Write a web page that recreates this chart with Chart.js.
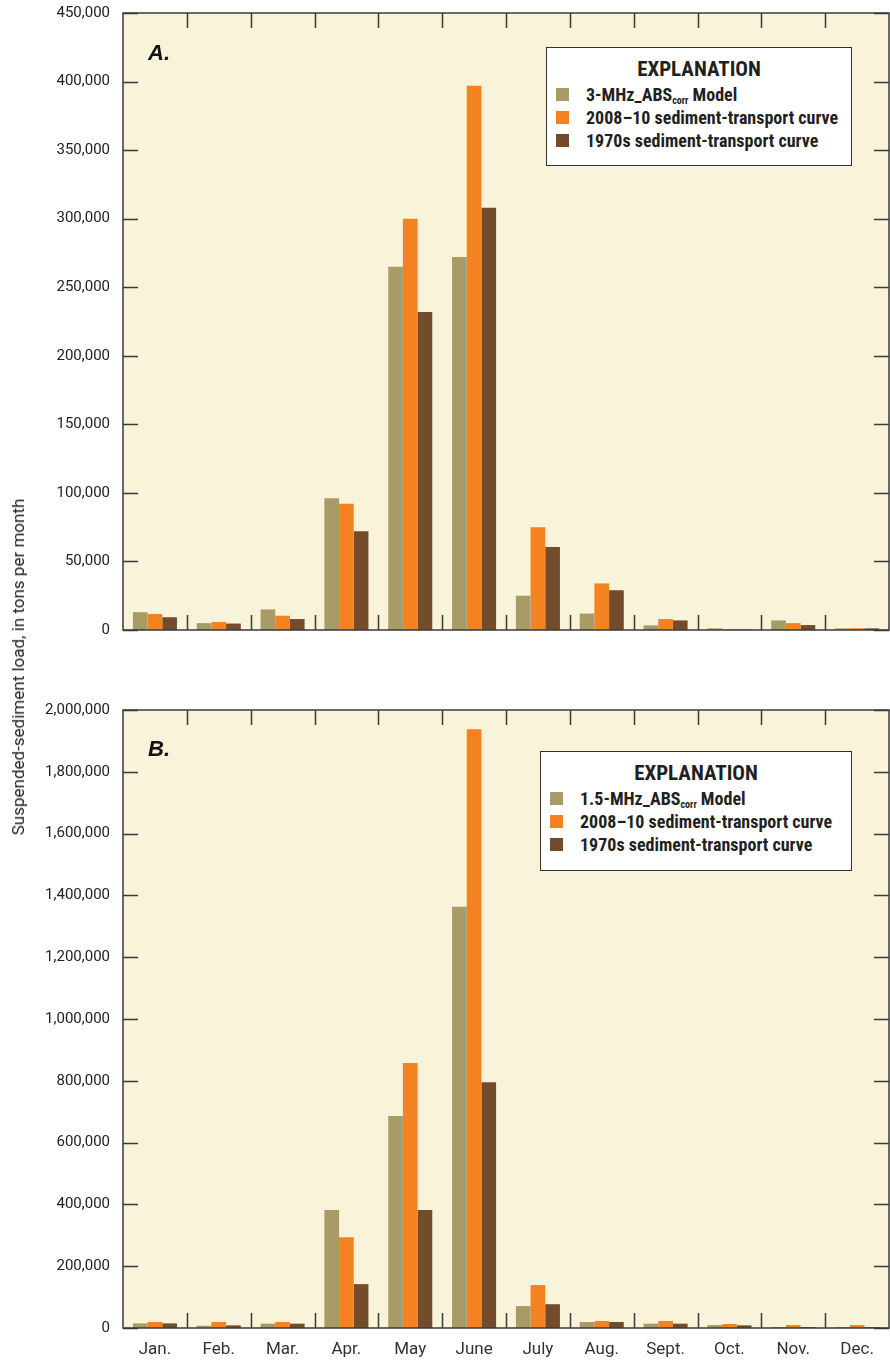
<!DOCTYPE html>
<html>
<head>
<meta charset="utf-8">
<script src="https://cdn.jsdelivr.net/npm/chart.js@4"></script>
<style>
  html, body { margin:0; padding:0; background:#ffffff; }
  body { width:890px; height:1361px; position:relative; overflow:hidden; font-family: Roboto, 'Liberation Sans', sans-serif; }
  canvas { position:absolute; left:0; }
  .panel { position:absolute; font: italic bold 22px 'Liberation Sans', Arial, sans-serif; color:#111; }
  .legend { position:absolute; background:#fff; border:1.5px solid #333; box-sizing:border-box;
            font-family: 'Liberation Sans Narrow', 'Roboto Condensed', Roboto, sans-serif; font-weight:bold; color:#231f20; }
  .legend .title { text-align:center; font-size:21px; margin-top:9px; margin-bottom:2px; }
  .legend .item { position:relative; height:23px; line-height:23px; font-size:18px; padding-left:39px; white-space:nowrap; }
  .legend .sw { position:absolute; left:9px; top:5px; width:13px; height:13px; }
  .legend sub { font-size:10px; vertical-align:-3px; line-height:0; }
  .ytitle { position:absolute; left:18px; top:667px; transform: translate(-50%,-50%) rotate(-90deg);
            white-space:nowrap; font-size:17px; color:#222; font-family: Roboto, sans-serif; }
</style>
</head>
<body>
<canvas id="cA" width="890" height="640" style="top:0px"></canvas>
<canvas id="cB" width="890" height="671" style="top:690px"></canvas>
<div class="panel" style="left:148px; top:40px;">A.</div>
<div class="panel" style="left:148px; top:736px;">B.</div>
<div class="ytitle">Suspended-sediment load, in tons per month</div>
<div id="legA" class="legend" style="left:546px; top:47px; width:306px; height:119px;"></div>
<div id="legB" class="legend" style="left:540px; top:751px; width:312px; height:120px;"></div>
<script>
// ---------------- data ----------------
const months = ['Jan.','Feb.','Mar.','Apr.','May','June','July','Aug.','Sept.','Oct.','Nov.','Dec.'];

const modelA   = [13000, 5000, 15000, 96000, 265000, 272000, 25000, 12000, 3400, 1200, 7000, 1200];
const curve2008A = [11700, 5800, 10400, 92000, 300000, 397000, 75000, 34000, 8000, 400, 5000, 1300];
const curve1970A = [9300, 4700, 8000, 72000, 232000, 308000, 60500, 29000, 7000, 400, 3600, 1200];

const modelB   = [15000, 7500, 14000, 382000, 686000, 1363000, 71000, 19400, 14000, 9700, 3000, 3000];
const curve2008B = [19400, 19400, 19400, 294000, 858000, 1938000, 139000, 22600, 22600, 13000, 9700, 9700];
const curve1970B = [15000, 8600, 14000, 142000, 382000, 795000, 77000, 19400, 14000, 8600, 3000, 3000];

const yMaxA = 450000, yStepA = 50000;
const yMaxB = 2000000, yStepB = 200000;

const labelsA = ['3-MHz_ABS|corr| Model', '2008–10 sediment-transport curve', '1970s sediment-transport curve'];
const labelsB = ['1.5-MHz_ABS|corr| Model', '2008–10 sediment-transport curve', '1970s sediment-transport curve'];
const legendTitle = 'EXPLANATION';

const colors = ['#a89b68', '#f58220', '#754c2b'];
const plotBg = '#f9f3d9';
const frameColor = '#3a3a3a';

// ---------------- helpers ----------------
function buildLegend(el, labels) {
  let html = '<div class="title">' + legendTitle + '</div>';
  labels.forEach((l, i) => {
    const parts = l.split('|');
    const txt = parts.length === 3 ? parts[0] + '<sub>' + parts[1] + '</sub>' + parts[2] : l;
    html += '<div class="item"><span class="sw" style="background:' + colors[i] + '"></span>' + txt + '</div>';
  });
  el.innerHTML = html;
}
buildLegend(document.getElementById('legA'), labelsA);
buildLegend(document.getElementById('legB'), labelsB);

const framePlugin = {
  id: 'frame',
  beforeDatasetsDraw(chart) {
    const a = chart.chartArea, ctx = chart.ctx;
    ctx.save();
    ctx.fillStyle = plotBg;
    ctx.fillRect(a.left, a.top, a.right - a.left, a.bottom - a.top);
    ctx.restore();
  },
  afterDatasetsDraw(chart) {
    const a = chart.chartArea, ctx = chart.ctx;
    const xs = chart.scales.x, ys = chart.scales.y;
    const L = 15;
    ctx.save();
    ctx.strokeStyle = frameColor;
    ctx.lineWidth = 1.5;
    ctx.beginPath();
    for (let i = 1; i < months.length; i++) {
      const x = Math.round((xs.getPixelForValue(i - 1) + xs.getPixelForValue(i)) / 2) + 0.5;
      ctx.moveTo(x, a.top); ctx.lineTo(x, a.top + L);
      ctx.moveTo(x, a.bottom); ctx.lineTo(x, a.bottom - L);
    }
    ys.ticks.forEach(t => {
      const y = Math.round(ys.getPixelForValue(t.value)) + 0.5;
      ctx.moveTo(a.left, y); ctx.lineTo(a.left + L, y);
      ctx.moveTo(a.right, y); ctx.lineTo(a.right - L, y);
    });
    ctx.stroke();
    ctx.lineWidth = 1.5;
    ctx.strokeRect(a.left, a.top, a.right - a.left, a.bottom - a.top);
    ctx.restore();
  }
};

function makeChart(id, data, yMax, yStep, showX, padding, xHeight) {
  return new Chart(document.getElementById(id), {
    type: 'bar',
    data: {
      labels: months,
      datasets: data.map((d, i) => ({
        label: d.label, data: d.values, backgroundColor: colors[i], borderWidth: 0,
        categoryPercentage: 0.69, barPercentage: 1.0
      }))
    },
    options: {
      responsive: false, animation: false, devicePixelRatio: 1,
      layout: { padding: padding },
      plugins: { legend: { display: false }, tooltip: { enabled: false } },
      scales: {
        x: {
          display: showX,
          grid: { display: false, drawTicks: false },
          border: { display: false },
          ticks: { color: '#333', font: { family: 'Roboto', size: 17 }, padding: 12, maxRotation: 0, autoSkip: false },
          afterFit: s => { if (xHeight) s.height = xHeight; s.paddingLeft = 0; s.paddingRight = 0; }
        },
        y: {
          min: 0, max: yMax,
          grid: { display: false, drawTicks: false },
          border: { display: false },
          ticks: {
            stepSize: yStep, color: '#222', padding: 13,
            font: { family: 'Roboto', size: 15 },
            callback: v => v.toLocaleString('en-US')
          },
          afterFit: s => { s.width = 123; s.paddingTop = 0; s.paddingBottom = 0; }
        }
      }
    },
    plugins: [framePlugin]
  });
}

makeChart('cA', [
  { label: labelsA[0].replace(/\|/g, ''), values: modelA },
  { label: labelsA[1], values: curve2008A },
  { label: labelsA[2], values: curve1970A }
], yMaxA, yStepA, false, { top: 13, right: 1, bottom: 10, left: 0 }, 0);

makeChart('cB', [
  { label: labelsB[0].replace(/\|/g, ''), values: modelB },
  { label: labelsB[1], values: curve2008B },
  { label: labelsB[2], values: curve1970B }
], yMaxB, yStepB, true, { top: 20, right: 1, bottom: 0, left: 0 }, 33);
</script>
</body>
</html>
